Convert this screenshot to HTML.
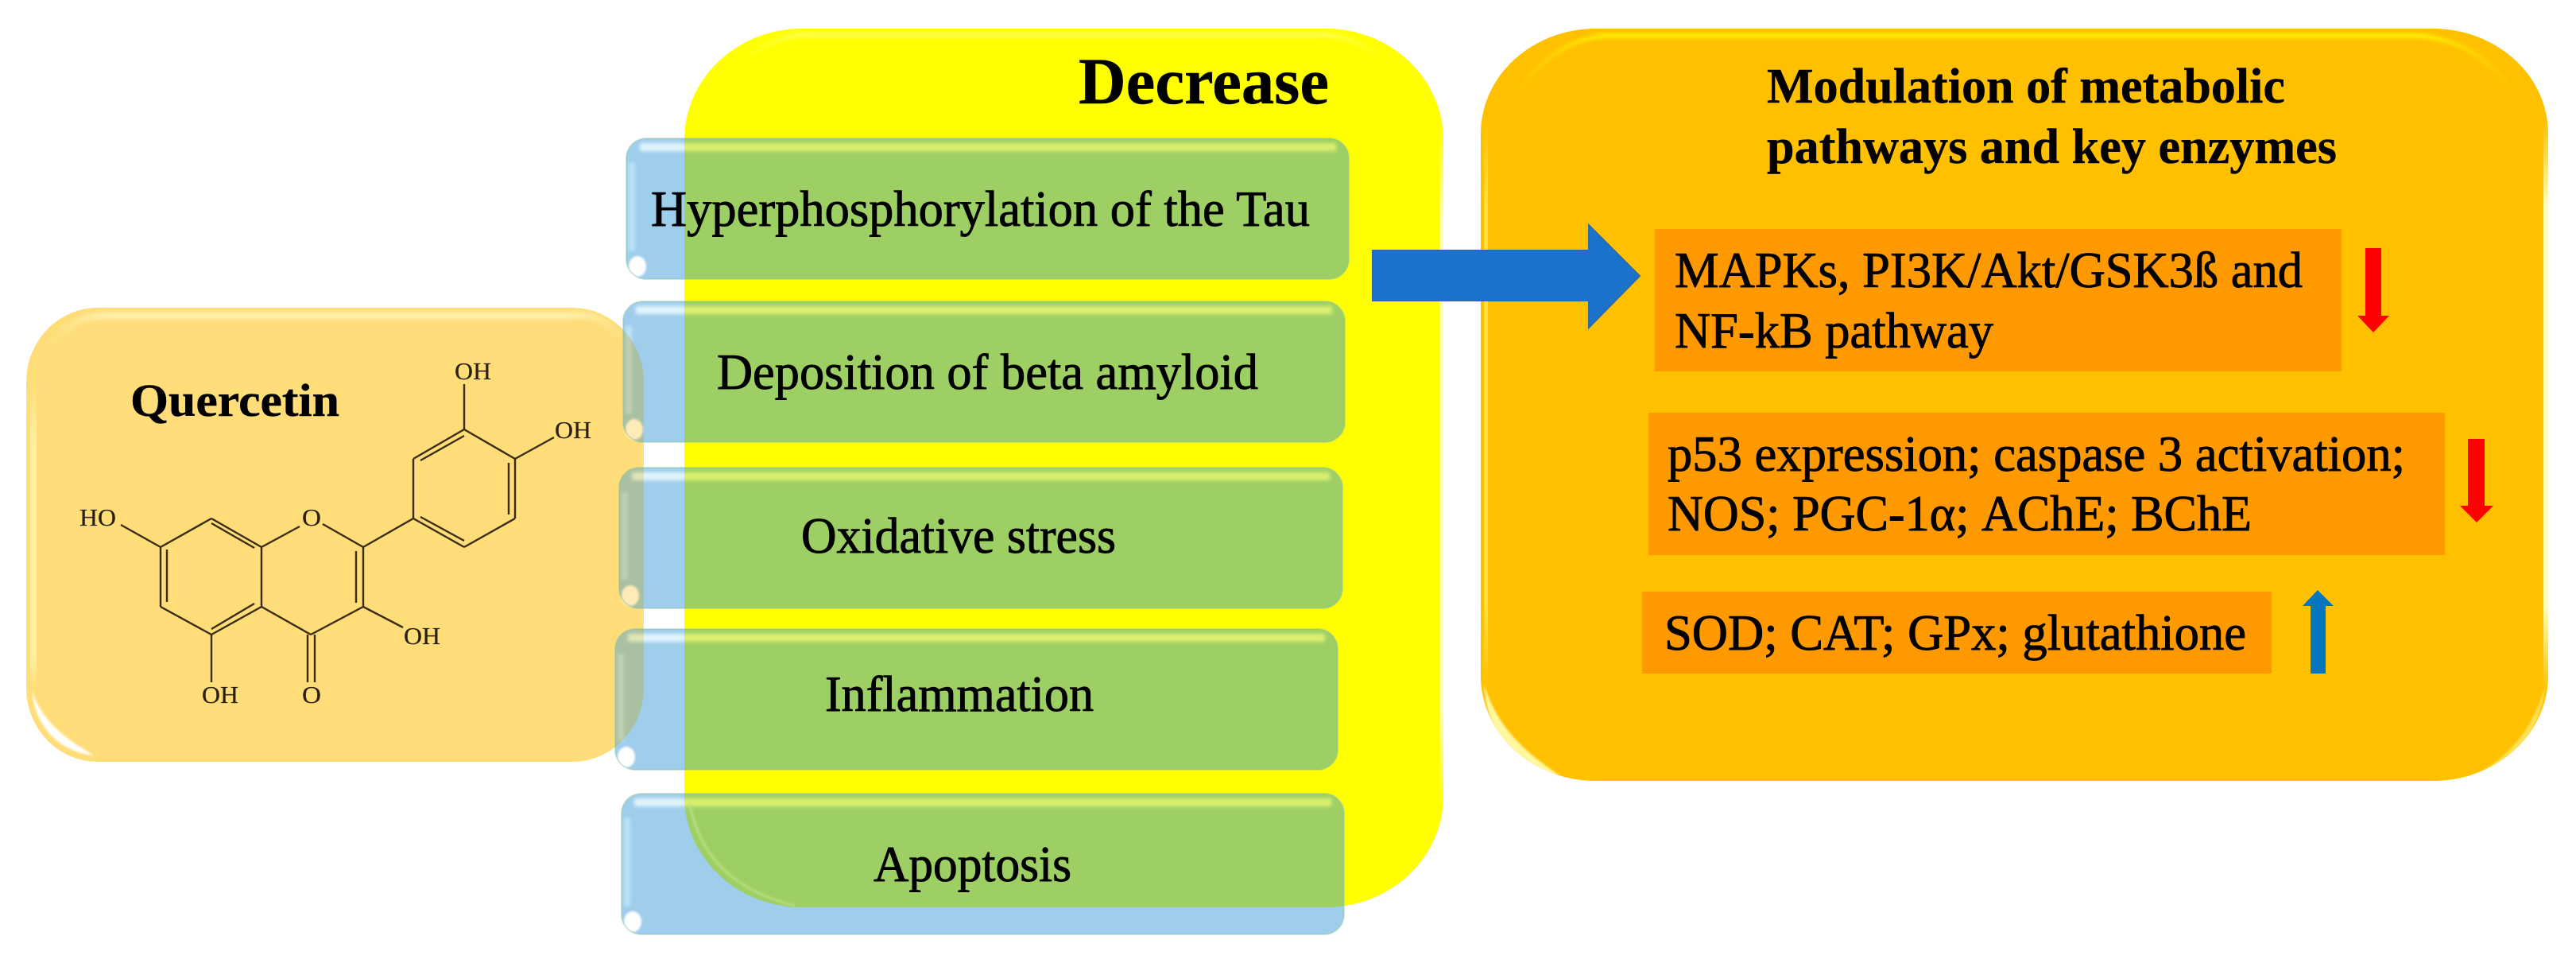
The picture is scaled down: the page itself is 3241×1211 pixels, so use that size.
<!DOCTYPE html>
<html><head><meta charset="utf-8"><style>
html,body{margin:0;padding:0;background:#fff;width:3241px;height:1211px;overflow:hidden}
svg{display:block}
text{font-family:"Liberation Serif",serif;fill:#000}
.m{font-size:63px;stroke:#000;stroke-width:.9px}
.b{font-size:62px;font-weight:bold;stroke:#000;stroke-width:.4px}
.c{font-size:31px;fill:#2a2010;stroke:#2a2010;stroke-width:.2px}
.bond line{stroke:#3a2c12;stroke-width:2.4}
</style></head><body>
<svg width="3241" height="1211" viewBox="0 0 3241 1211" xmlns="http://www.w3.org/2000/svg">
<defs>
<filter id="bl" x="-10%" y="-50%" width="120%" height="200%"><feGaussianBlur stdDeviation="2.5"/></filter>
<filter id="bs" x="-50%" y="-50%" width="200%" height="200%"><feGaussianBlur stdDeviation="1.2"/></filter>
<filter id="bv" x="-300%" y="-10%" width="700%" height="120%"><feGaussianBlur stdDeviation="2"/></filter>
<linearGradient id="go" gradientUnits="userSpaceOnUse" x1="1900" y1="0" x2="3170" y2="0">
<stop offset="0" stop-color="#FFF000" stop-opacity="0"/><stop offset=".1" stop-color="#FFF000"/><stop offset=".9" stop-color="#FFF000"/><stop offset="1" stop-color="#FFF000" stop-opacity="0"/>
</linearGradient>
<linearGradient id="gq" gradientUnits="userSpaceOnUse" x1="60" y1="0" x2="790" y2="0">
<stop offset="0" stop-color="#FFEFA8" stop-opacity="0"/><stop offset=".1" stop-color="#FFEFA8"/><stop offset=".9" stop-color="#FFEFA8"/><stop offset="1" stop-color="#FFEFA8" stop-opacity="0"/>
</linearGradient>
<linearGradient id="gy" gradientUnits="userSpaceOnUse" x1="930" y1="0" x2="1745" y2="0">
<stop offset="0" stop-color="#FFFF80" stop-opacity="0"/><stop offset=".1" stop-color="#FFFF80"/><stop offset=".9" stop-color="#FFFF80"/><stop offset="1" stop-color="#FFFF80" stop-opacity="0"/>
</linearGradient>
<linearGradient id="gv1" x1="0" y1="0" x2="0" y2="1">
<stop offset="0" stop-color="#FFFFB0" stop-opacity="0"/><stop offset=".15" stop-color="#FFFFB0"/><stop offset=".85" stop-color="#FFFFB0"/><stop offset="1" stop-color="#FFFFB0" stop-opacity="0"/>
</linearGradient>
<linearGradient id="gv2" x1="0" y1="0" x2="0" y2="1">
<stop offset="0" stop-color="#FFE040" stop-opacity="0"/><stop offset=".15" stop-color="#FFE040"/><stop offset=".85" stop-color="#FFE040"/><stop offset="1" stop-color="#FFE040" stop-opacity="0"/>
</linearGradient>
<linearGradient id="gv3" x1="0" y1="0" x2="0" y2="1">
<stop offset="0" stop-color="#FFEFA0" stop-opacity="0"/><stop offset=".2" stop-color="#FFEFA0"/><stop offset=".9" stop-color="#FFEFA0"/><stop offset="1" stop-color="#FFEFA0" stop-opacity="0"/>
</linearGradient>
<clipPath id="cy"><rect x="861" y="36" width="955" height="1105" rx="148" ry="140"/></clipPath>
<clipPath id="cq"><rect x="33" y="387" width="777" height="571" rx="90" ry="93"/></clipPath>
<clipPath id="co"><rect x="1863" y="36" width="1343" height="946" rx="145" ry="132"/></clipPath>
<g id="boxes">
<rect x="788" y="174" width="909" height="177" rx="25" ry="25"/>
<rect x="784" y="379" width="908" height="177" rx="25" ry="25"/>
<rect x="779" y="588" width="910" height="177" rx="25" ry="25"/>
<rect x="774" y="791" width="909" height="177" rx="25" ry="25"/>
<rect x="782" y="998" width="909" height="177" rx="25" ry="25"/>
</g>
<g id="bands" filter="url(#bl)">
<rect x="805" y="180" width="876" height="10"/>
<rect x="800" y="385" width="876" height="10"/>
<rect x="795" y="594" width="878" height="10"/>
<rect x="790" y="797" width="877" height="10"/>
<rect x="798" y="1004" width="877" height="10"/>
</g>
<g id="strips" filter="url(#bv)">
<rect x="791" y="205" width="8" height="110"/>
<rect x="787" y="410" width="8" height="110"/>
<rect x="782" y="619" width="8" height="110"/>
<rect x="777" y="822" width="8" height="110"/>
<rect x="785" y="1029" width="8" height="110"/>
</g>
<g id="cres">
<ellipse cx="802" cy="335" rx="11" ry="13"/>
<ellipse cx="798" cy="540" rx="11" ry="13"/>
<ellipse cx="793" cy="749" rx="11" ry="13"/>
<ellipse cx="788" cy="952" rx="11" ry="13"/>
<ellipse cx="796" cy="1159" rx="11" ry="13"/>
</g>
</defs>

<rect width="3241" height="1211" fill="#fff"/>

<!-- right panel -->
<rect x="1863" y="36" width="1343" height="946" rx="145" ry="132" fill="#FFC000"/>
<g clip-path="url(#co)">
<path d="M1900 130 Q1950 50 2020 45 L3040 45 Q3125 50 3170 130" fill="none" stroke="url(#go)" stroke-width="6" filter="url(#bl)"/>
<rect x="1867" y="150" width="5" height="720" fill="url(#gv2)"/>
<rect x="3200" y="150" width="6" height="720" fill="url(#gv1)"/>
<path d="M1867 860 C1872 925 1900 960 1965 977 C1925 950 1885 920 1867 860 Z" fill="#FFF8A0" filter="url(#bs)"/>
<path d="M3203 860 C3196 920 3165 960 3110 978 C3150 955 3185 925 3203 860 Z" fill="#FFF080" filter="url(#bs)" opacity=".7"/>
</g>

<!-- quercetin panel -->
<rect x="33" y="387" width="777" height="571" rx="90" ry="93" fill="#FFDD78"/>
<g clip-path="url(#cq)">
<path d="M60 440 Q85 400 125 397 L735 397 Q770 400 790 440" fill="none" stroke="url(#gq)" stroke-width="9" filter="url(#bl)"/>
<rect x="38" y="480" width="8" height="385" fill="url(#gv3)"/>
<path d="M40 868 C44 915 75 945 118 950 C95 935 55 915 40 868 Z" fill="#fff" filter="url(#bs)"/>
</g>

<!-- yellow panel -->
<rect x="861" y="36" width="955" height="1105" rx="148" ry="140" fill="#FFFF00"/>
<g clip-path="url(#cy)">
<path d="M930 80 Q970 46 1010 44 L1668 44 Q1710 46 1745 80" fill="none" stroke="url(#gy)" stroke-width="6" filter="url(#bl)" opacity=".7"/>
<rect x="1811" y="150" width="5" height="870" fill="url(#gv1)"/>
</g>

<!-- five boxes -->
<use href="#boxes" fill="#9FCDEC"/>
<use href="#bands" fill="#E2F5FC"/>
<use href="#strips" fill="#BDE3F8"/>
<use href="#cres" fill="#fff" filter="url(#bs)"/>
<g clip-path="url(#cy)">
<use href="#boxes" fill="#9ECF64"/>
<use href="#bands" fill="#DCF070"/>
</g>
<g clip-path="url(#cq)">
<use href="#boxes" fill="#A9C0A2"/>
<use href="#bands" fill="#E0E8B8"/>
<use href="#strips" fill="#BFD0B4"/>
<use href="#cres" fill="#FFEBB8" filter="url(#bs)"/>
</g>
<g fill="none" stroke="#8FC4A0" stroke-width="2" opacity=".4">
<use href="#boxes"/>
</g>
<path d="M868 1010 Q885 1110 1000 1139" fill="none" stroke="#C4E28E" stroke-width="3" filter="url(#bs)" opacity=".7"/>

<!-- big arrow -->
<polygon points="1727,315 1999,315 1999,283 2063,347 1999,412 1999,378 1727,378" fill="#1B73CC" stroke="#2D6BA8" stroke-width="2"/>

<!-- inner rects -->
<rect x="2082" y="288" width="864" height="179" fill="#FF9900"/>
<rect x="2074" y="519" width="1002" height="179" fill="#FF9900"/>
<rect x="2066" y="744" width="792" height="103" fill="#FF9900"/>

<!-- small arrows -->
<polygon points="2976,312 2996,312 2996,397 3006,397 2986,418 2966,397 2976,397" fill="#FF0000"/>
<polygon points="3105,552 3126,552 3126,636 3137,636 3116,657 3095,636 3105,636" fill="#FF0000"/>
<polygon points="2916,742 2936,762 2926,762 2926,847 2907,847 2907,762 2897,762" fill="#0676BE"/>

<!-- titles -->
<text class="b" x="1357" y="130" style="font-size:83px" textLength="315" lengthAdjust="spacingAndGlyphs">Decrease</text>
<text class="b" x="164" y="523" style="font-size:58px" textLength="263" lengthAdjust="spacingAndGlyphs">Quercetin</text>
<text class="b" x="2223" y="129" textLength="652" lengthAdjust="spacingAndGlyphs">Modulation of metabolic</text>
<text class="b" x="2223" y="205" textLength="717" lengthAdjust="spacingAndGlyphs">pathways and key enzymes</text>

<!-- box labels -->
<text class="m" x="819" y="284" textLength="829" lengthAdjust="spacingAndGlyphs">Hyperphosphorylation of the Tau</text>
<text class="m" x="902" y="489" textLength="681" lengthAdjust="spacingAndGlyphs">Deposition of beta amyloid</text>
<text class="m" x="1008" y="695" textLength="396" lengthAdjust="spacingAndGlyphs">Oxidative stress</text>
<text class="m" x="1038" y="894" textLength="338" lengthAdjust="spacingAndGlyphs">Inflammation</text>
<text class="m" x="1099" y="1108" textLength="249" lengthAdjust="spacingAndGlyphs">Apoptosis</text>

<!-- right labels -->
<text class="m" x="2107" y="361" textLength="790" lengthAdjust="spacingAndGlyphs">MAPKs, PI3K/Akt/GSK3ß and</text>
<text class="m" x="2107" y="437" textLength="401" lengthAdjust="spacingAndGlyphs">NF-kB pathway</text>
<text class="m" x="2098" y="592" textLength="928" lengthAdjust="spacingAndGlyphs">p53 expression; caspase 3 activation;</text>
<text class="m" x="2098" y="667" textLength="735" lengthAdjust="spacingAndGlyphs">NOS; PGC-1α; AChE; BChE</text>
<text class="m" x="2094" y="817" textLength="732" lengthAdjust="spacingAndGlyphs">SOD; CAT; GPx; glutathione</text>

<!-- molecule -->
<g class="bond">
<line x1="202" y1="688" x2="266" y2="652"/>
<line x1="266" y1="652" x2="329" y2="688"/>
<line x1="329" y1="688" x2="329" y2="763"/>
<line x1="329" y1="763" x2="266" y2="798"/>
<line x1="266" y1="798" x2="202" y2="763"/>
<line x1="202" y1="763" x2="202" y2="688"/>
<line x1="210" y1="691" x2="210" y2="757"/>
<line x1="266" y1="658" x2="320" y2="689"/>
<line x1="266" y1="791" x2="320" y2="759"/>
<line x1="329" y1="688" x2="377" y2="662"/>
<line x1="406" y1="659" x2="457" y2="688"/>
<line x1="457" y1="688" x2="457" y2="763"/>
<line x1="448" y1="693" x2="448" y2="758"/>
<line x1="457" y1="763" x2="391" y2="798"/>
<line x1="329" y1="763" x2="391" y2="798"/>
<line x1="387" y1="798" x2="387" y2="858"/>
<line x1="396" y1="798" x2="396" y2="858"/>
<line x1="457" y1="763" x2="507" y2="789"/>
<line x1="266" y1="798" x2="266" y2="858"/>
<line x1="152" y1="660" x2="202" y2="688"/>
<line x1="457" y1="688" x2="520" y2="652"/>
<line x1="520" y1="652" x2="520" y2="577"/>
<line x1="520" y1="577" x2="584" y2="540"/>
<line x1="584" y1="540" x2="648" y2="577"/>
<line x1="648" y1="577" x2="648" y2="652"/>
<line x1="648" y1="652" x2="584" y2="688"/>
<line x1="584" y1="688" x2="520" y2="652"/>
<line x1="529" y1="579" x2="584" y2="548"/>
<line x1="640" y1="582" x2="640" y2="647"/>
<line x1="529" y1="650" x2="584" y2="680"/>
<line x1="584" y1="483" x2="584" y2="540"/>
<line x1="648" y1="577" x2="697" y2="550"/>
</g>
<text class="c" x="572" y="477" textLength="46" lengthAdjust="spacingAndGlyphs">OH</text>
<text class="c" x="698" y="551" textLength="46" lengthAdjust="spacingAndGlyphs">OH</text>
<text class="c" x="100" y="661" textLength="46" lengthAdjust="spacingAndGlyphs">HO</text>
<text class="c" x="380" y="661" textLength="24" lengthAdjust="spacingAndGlyphs">O</text>
<text class="c" x="508" y="810" textLength="46" lengthAdjust="spacingAndGlyphs">OH</text>
<text class="c" x="254" y="884" textLength="46" lengthAdjust="spacingAndGlyphs">OH</text>
<text class="c" x="380" y="884" textLength="24" lengthAdjust="spacingAndGlyphs">O</text>
</svg>
</body></html>
